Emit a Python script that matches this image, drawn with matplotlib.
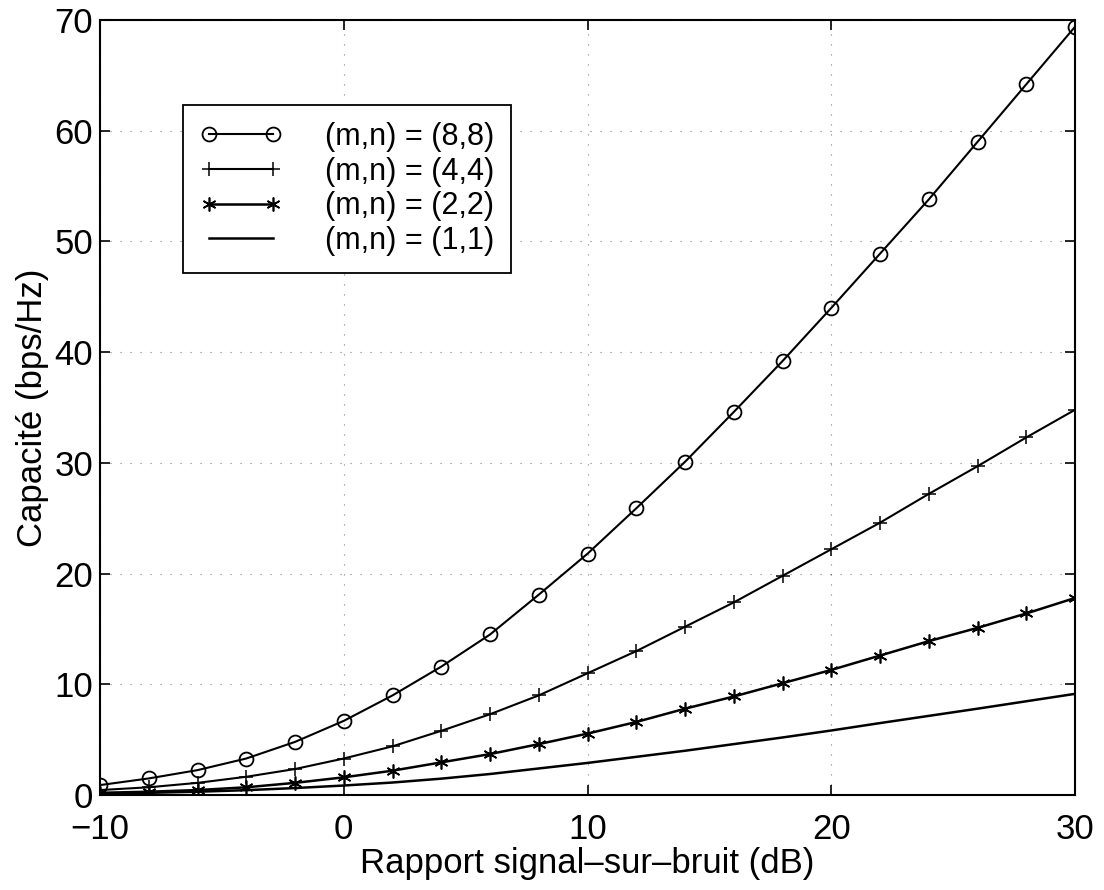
import matplotlib
matplotlib.use('Agg')
import matplotlib.pyplot as plt

plt.rcParams['font.family'] = ['Liberation Sans', 'DejaVu Sans']

snr_db = [-10, -8, -6, -4, -2, 0, 2, 4, 6, 8, 10, 12, 14, 16, 18, 20, 22, 24, 26, 28, 30]

cap_8x8 = [0.9, 1.5, 2.25, 3.3, 4.8, 6.7, 9.0, 11.6, 14.5, 18.1, 21.8, 25.9, 30.1,
           34.6, 39.2, 44.0, 48.9, 53.8, 59.0, 64.2, 69.4]
cap_4x4 = [0.45, 0.7, 1.1, 1.65, 2.35, 3.3, 4.4, 5.8, 7.3, 9.0, 11.0, 13.0, 15.2,
           17.4, 19.8, 22.2, 24.6, 27.2, 29.7, 32.3, 34.8]
cap_2x2 = [0.2, 0.3, 0.45, 0.7, 1.1, 1.6, 2.2, 2.95, 3.7, 4.6, 5.55, 6.6, 7.8,
           8.9, 10.1, 11.3, 12.6, 13.9, 15.1, 16.4, 17.8]
cap_1x1 = [0.13, 0.2, 0.3, 0.44, 0.63, 0.86, 1.13, 1.48, 1.9, 2.4, 2.9, 3.45, 4.0,
           4.6, 5.2, 5.83, 6.5, 7.15, 7.8, 8.47, 9.14]

labels = ['(m,n) = (8,8)', '(m,n) = (4,4)', '(m,n) = (2,2)', '(m,n) = (1,1)']

fig = plt.figure(figsize=(11.04, 8.9), dpi=100)
ax = fig.add_axes([0.0906, 0.1067, 0.8832, 0.8708])

ax.plot(snr_db, cap_8x8, color='black', lw=1.5, marker='o', ms=10,
        mfc='none', mew=1.3, label=labels[0])
ax.plot(snr_db, cap_4x4, color='black', lw=1.5, marker='+', ms=10,
        mew=1.1, label=labels[1])
ax.plot(snr_db, cap_2x2, color='black', lw=1.8, marker=(6, 2, 0), ms=10,
        mew=1.2, label=labels[2])
ax.plot(snr_db, cap_1x1, color='black', lw=1.8, label=labels[3])

ax.set_xlim(-10, 30)
ax.set_ylim(0, 70)
ax.set_xticks([-10, 0, 10, 20, 30])
ax.set_yticks([0, 10, 20, 30, 40, 50, 60, 70])

# sparse dotted grid like the original
ax.grid(True, color='black', linestyle=(0, (1, 8)), lw=0.8, alpha=0.5)
ax.tick_params(direction='in', length=7, width=1.2, labelsize=25,
               top=True, right=True)
ax.tick_params(axis='x', pad=13)
ax.tick_params(axis='y', pad=5)
for s in ax.spines.values():
    s.set_linewidth(1.5)

ax.set_xlabel('Rapport signal\u2013sur\u2013bruit (dB)', fontsize=25, labelpad=1)
ax.set_ylabel('Capacité (bps/Hz)', fontsize=25, labelpad=4)

leg = ax.legend(loc='upper left', bbox_to_anchor=(0.085, 0.89), borderaxespad=0,
                fontsize=22, handlelength=2.7, handletextpad=1.4, labelspacing=0.15,
                borderpad=0.55, numpoints=2, fancybox=False, framealpha=1)
leg.get_frame().set_edgecolor('black')
leg.get_frame().set_linewidth(1.3)

fig.savefig('out.png', dpi=100)
